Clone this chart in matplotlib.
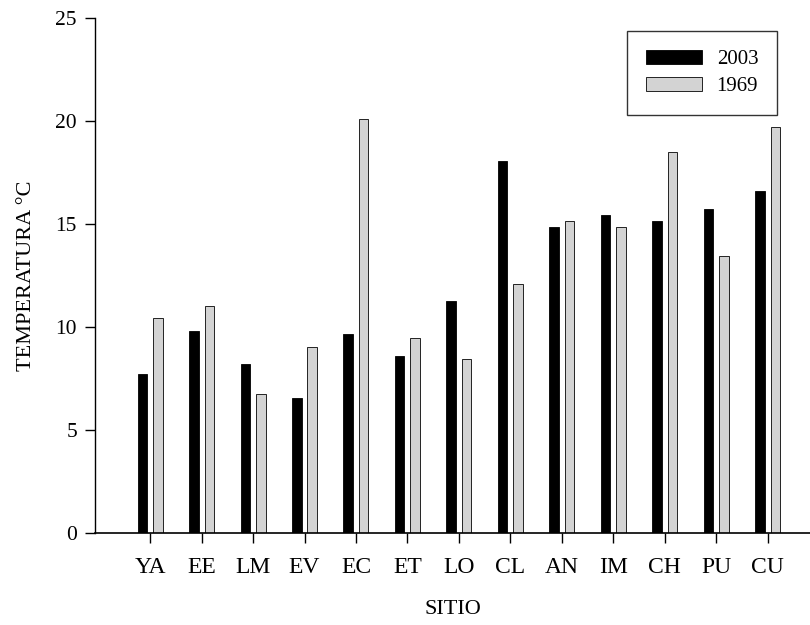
import matplotlib
matplotlib.use("Agg")
import matplotlib.pyplot as plt
import numpy as np

sitios = ["YA", "EE", "LM", "EV", "EC", "ET", "LO", "CL", "AN", "IM", "CH", "PU", "CU"]
t2003 = [7.7, 9.8, 8.2, 6.55, 9.65, 8.6, 11.25, 18.05, 14.85, 15.45, 15.15, 15.75, 16.6]
t1969 = [10.45, 11.0, 6.75, 9.05, 20.1, 9.45, 8.45, 12.1, 15.15, 14.85, 18.5, 13.45, 19.7]
yticks = [0, 5, 10, 15, 20, 25]

plt.rcParams['font.family'] = ['Liberation Serif', 'DejaVu Serif']

fig = plt.figure(figsize=(8.1, 6.25), dpi=100)
ax = fig.add_axes([95/810, 1-533/625, 1-95/810, (533-18)/625])

x = np.arange(len(sitios))
off = 0.15
w = 0.185
ax.bar(x - off, t2003, width=w, color='black', edgecolor='black', linewidth=0.6, label='2003')
ax.bar(x + off, t1969, width=w, color='#d3d3d3', edgecolor='#222222', linewidth=0.7, label='1969')

ax.set_xlim(-1.07, 12.82)
ax.set_ylim(0, 25)
ax.set_yticks(yticks)
ax.set_xticks(x)
ax.set_xticklabels(sitios)
ax.tick_params(axis='both', direction='out', length=7, width=1, colors='black')
ax.tick_params(axis='x', pad=10, labelsize=17)
ax.tick_params(axis='y', pad=6, labelsize=15.5)
for s in ['top', 'right']:
    ax.spines[s].set_visible(False)
ax.spines['left'].set_linewidth(1)
ax.spines['bottom'].set_linewidth(1.2)

ax.set_ylabel('TEMPERATURA °C', fontsize=16, labelpad=14)
ax.set_xlabel('SITIO', fontsize=16, labelpad=16)

leg = ax.legend(loc='upper right', bbox_to_anchor=((777-95)/715, (533-31)/515),
                fontsize=15, frameon=True, fancybox=False, edgecolor='black',
                handlelength=2.7, handleheight=0.7, borderpad=0.9, labelspacing=0.35,
                handletextpad=0.7, borderaxespad=0)
leg.get_frame().set_linewidth(1.0)

fig.savefig('out.png', dpi=100)
